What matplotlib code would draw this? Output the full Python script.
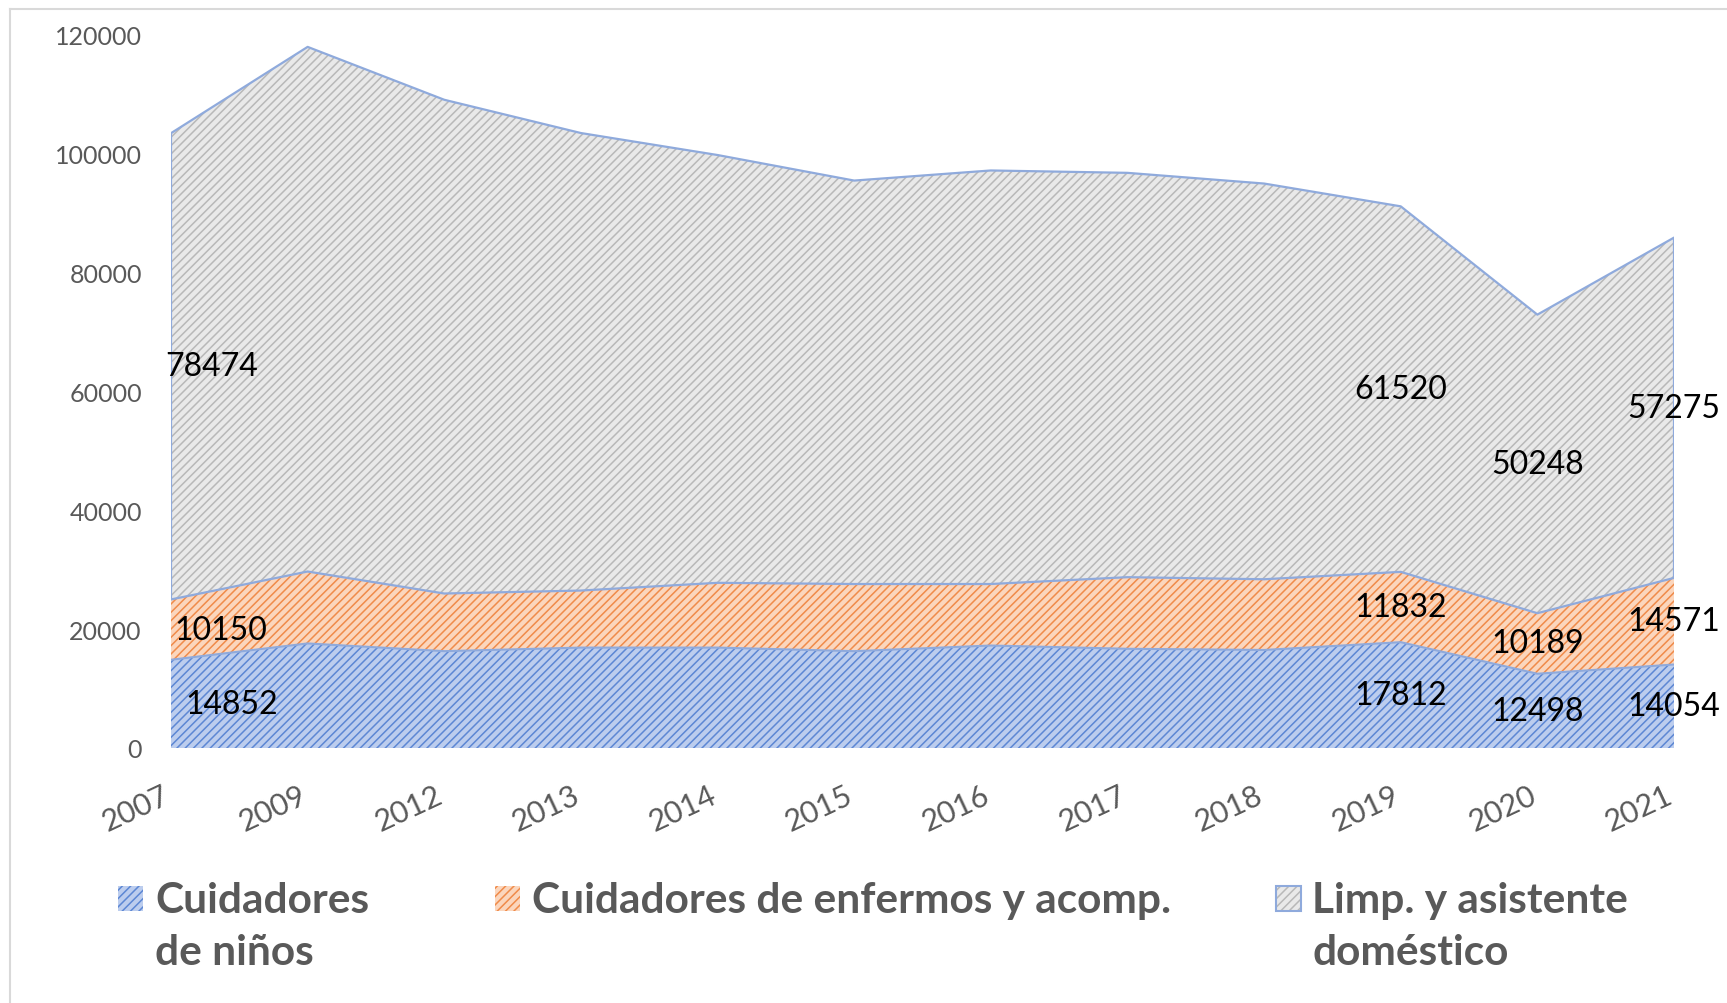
import matplotlib
matplotlib.use("Agg")
import matplotlib.pyplot as plt
from matplotlib.patches import Rectangle
from matplotlib.lines import Line2D
from matplotlib.transforms import ScaledTranslation
import numpy as np

plt.rcParams['font.family'] = ['Lato', 'DejaVu Sans']
plt.rcParams['hatch.linewidth'] = 1.1

years = ["2007", "2009", "2012", "2013", "2014", "2015", "2016", "2017", "2018", "2019", "2020", "2021"]
ninos = [14852, 17600, 16300, 16900, 16900, 16300, 17250, 16700, 16500, 17812, 12498, 14054]
enfermos = [10150, 12100, 9700, 9600, 10900, 11300, 10350, 12050, 11900, 11832, 10189, 14571]
limpieza = [78474, 88300, 83100, 77000, 72000, 67900, 69600, 68050, 66600, 61520, 50248, 57275]
series_names = ["Cuidadores\nde niños", "Cuidadores de enfermos y acomp.", "Limp. y asistente\ndoméstico"]
labeled_idx = [0, 9, 10, 11]
yticks = [0, 20000, 40000, 60000, 80000, 100000, 120000]

faces = ['#bccdee', '#fbd6bd', '#e9e9e9']
hatchc = ['#5d87d4', '#f08b4a', '#b8b8b8']
outline = '#8faadc'
HATCH = '////'

W, H = 1727, 1004
fig = plt.figure(figsize=(W / 100, H / 100), dpi=100)
ax = fig.add_axes([171 / W, 1 - 749 / H, (1674 - 171) / W, (749 - 36) / H])

x = np.arange(len(years))
data = [np.array(ninos), np.array(enfermos), np.array(limpieza)]
bottom = np.zeros(len(years))
bands = []
for i, d in enumerate(data):
    top = bottom + d
    ax.fill_between(x, bottom, top, facecolor=faces[i], edgecolor=hatchc[i],
                    hatch=HATCH, linewidth=0, zorder=2)
    bands.append((bottom.copy(), top.copy()))
    bottom = top

# outlines
b0, t0 = bands[0]
ax.plot(x, t0, color=outline, lw=1.5, zorder=3)
b2, t2 = bands[2]
ax.fill_between(x, b2, t2, facecolor='none', edgecolor=outline, linewidth=1.6, zorder=4)

ax.set_xlim(0, len(years) - 1)
ax.set_ylim(0, 120000)
ax.set_yticks(yticks)
ax.set_yticklabels([str(v) for v in yticks])
ax.set_xticks(x)
ax.set_xticklabels(years, rotation=25, ha='right', rotation_mode='anchor')
ax.tick_params(axis='y', length=0, pad=21, labelsize=18, labelcolor='#595959')
ax.tick_params(axis='x', length=0, pad=23, labelsize=22, labelcolor='#595959')
shift = ScaledTranslation(-9 / 100, 0, fig.dpi_scale_trans)
for lab in ax.get_xticklabels():
    lab.set_transform(lab.get_transform() + shift)
for s in ax.spines.values():
    s.set_visible(False)

# data labels at band middles
first_offsets = [44, 36, 29]  # points, shift right for first point
for i, (lo, hi) in enumerate(bands):
    vals = data[i]
    for j in labeled_idx:
        mid = (lo[j] + hi[j]) / 2
        dx = first_offsets[i] if j == 0 else 0
        ax.annotate(str(vals[j]), (x[j], mid), xytext=(dx, 0), textcoords='offset points',
                    ha='center', va='center', fontsize=23, color='black', zorder=6,
                    annotation_clip=False)

# legend (manual)
patch_x = [118, 495, 1276]
text_x = [155, 532, 1312]
for i, name in enumerate(series_names):
    r = Rectangle((patch_x[i] / W, 1 - 912 / H), 25 / W, 25 / H, transform=fig.transFigure,
                  facecolor=faces[i], edgecolor=hatchc[i], hatch=HATCH, linewidth=0)
    fig.patches.append(r)
    if i == 2:
        r2 = Rectangle((patch_x[i] / W, 1 - 912 / H), 25 / W, 25 / H, transform=fig.transFigure,
                       facecolor='none', edgecolor=outline, linewidth=1.5)
        fig.patches.append(r2)
    for k, line in enumerate(name.split("\n")):
        fig.text(text_x[i] / W, 1 - (913 + 52 * k) / H, line, fontsize=30.5, fontweight='bold',
                 color='#595959', ha='left', va='baseline')

# chart border (top and left visible)
fig.lines.append(Line2D([10 / W, 1], [1 - 10 / H, 1 - 10 / H], transform=fig.transFigure,
                        color='#d9d9d9', lw=1.5))
fig.lines.append(Line2D([10 / W, 10 / W], [0, 1 - 10 / H], transform=fig.transFigure,
                        color='#d9d9d9', lw=1.5))

fig.savefig("out.png", dpi=100, facecolor='white')
